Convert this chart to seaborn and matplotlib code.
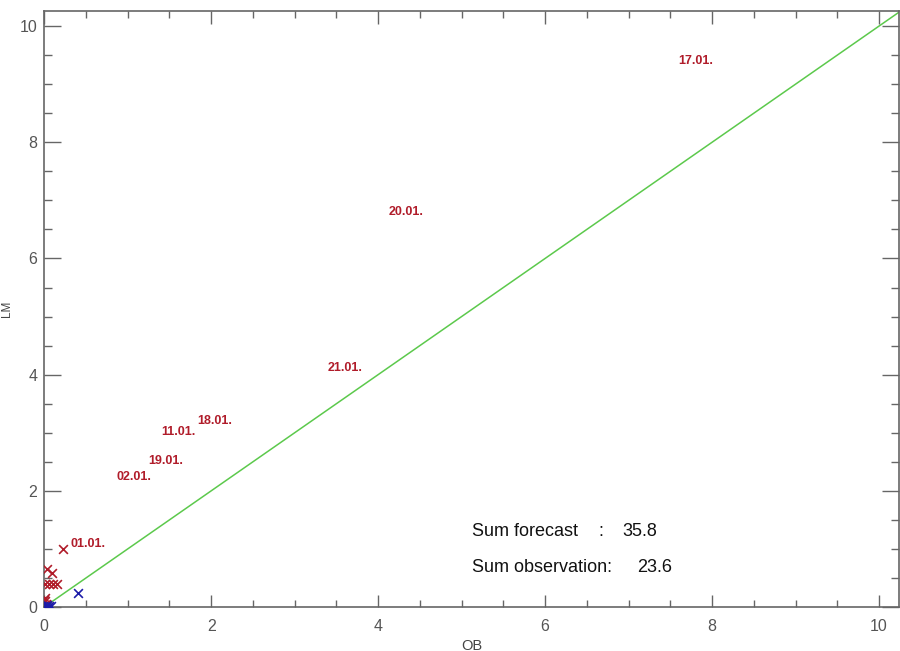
import matplotlib
matplotlib.use("Agg")
import matplotlib.pyplot as plt
import seaborn as sns
import pandas as pd
from matplotlib.ticker import MultipleLocator

# --- Data ---
# labelled days (observation OB, forecast LM)
label_days = ["17.01.", "20.01.", "21.01.", "18.01.", "11.01.", "19.01.", "02.01.", "01.01."]
label_ob = [7.60, 4.12, 3.40, 1.83, 1.40, 1.25, 0.86, 0.31]
label_lm = [9.40, 6.80, 4.11, 3.20, 3.01, 2.51, 2.24, 1.08]

# small overforecast days (red crosses)
red_ob = [0.23, 0.03, 0.09, 0.01, 0.06, 0.11, 0.15, 0.01, 0.01, 0.02, 0.00, 0.03]
red_lm = [0.99, 0.65, 0.59, 0.40, 0.40, 0.40, 0.40, 0.15, 0.10, 0.06, 0.12, 0.03]

# underforecast days (blue crosses)
blue_ob = [0.40, 0.02, 0.05, 0.03, 0.06, 0.01, 0.08]
blue_lm = [0.24, 0.01, 0.00, 0.03, 0.01, 0.00, 0.01]

one_to_one = [0, 10.6]

sum_forecast = 35.8
sum_observation = 23.6

RED = "#b01c2a"
BLUE = "#1c1ca8"
GREEN = "#5cc94c"
GREY = "#666666"

sns.set_style("white")
plt.rcParams["font.family"] = ["Liberation Sans", "DejaVu Sans"]

fig = plt.figure(figsize=(9, 6.51), dpi=100)
ax = fig.add_axes([0.0492, 0.0676, 0.9497, 0.9155])

sns.lineplot(x=one_to_one, y=one_to_one, color=GREEN, lw=1.1, ax=ax)

red_df = pd.DataFrame({"OB": red_ob, "LM": red_lm})
blue_df = pd.DataFrame({"OB": blue_ob, "LM": blue_lm})
sns.scatterplot(data=red_df, x="OB", y="LM", marker="x", color=RED, s=40,
                linewidth=1.2, ax=ax, zorder=3)
sns.scatterplot(data=blue_df, x="OB", y="LM", marker="x", color=BLUE, s=40,
                linewidth=1.2, ax=ax, zorder=3)

for day, xo, yl in zip(label_days, label_ob, label_lm):
    ax.text(xo, yl, day, color=RED, fontsize=9, fontweight="bold",
            ha="left", va="center")

# summary text
ax.text(0.501, 0.126, "Sum forecast", transform=ax.transAxes, fontsize=13,
        va="center", ha="left", color="#111111")
ax.text(0.648, 0.126, ":", transform=ax.transAxes, fontsize=13,
        va="center", ha="left", color="#111111")
ax.text(0.676, 0.126, f"{sum_forecast:.1f}", transform=ax.transAxes,
        fontsize=13, va="center", ha="left", color="#111111")
ax.text(0.501, 0.067, "Sum observation:", transform=ax.transAxes,
        fontsize=13, va="center", ha="left", color="#111111")
ax.text(0.694, 0.067, f"{sum_observation:.1f}", transform=ax.transAxes,
        fontsize=13, va="center", ha="left", color="#111111")

ax.set_xlim(0, 10.24)
ax.set_ylim(0, 10.26)
ax.xaxis.set_major_locator(MultipleLocator(2))
ax.xaxis.set_minor_locator(MultipleLocator(0.5))
ax.yaxis.set_major_locator(MultipleLocator(2))
ax.yaxis.set_minor_locator(MultipleLocator(0.5))

ax.tick_params(axis="x", which="major", direction="in", length=9, width=1,
               color=GREY, top=True, bottom=True, pad=9,
               labelsize=11.5, labelcolor="#555555")
ax.tick_params(axis="x", which="minor", direction="in", length=5, width=1,
               color=GREY, top=True, bottom=True)
ax.tick_params(axis="y", which="major", direction="in", length=12, width=1,
               color=GREY, left=True, right=True, pad=5,
               labelsize=11.5, labelcolor="#555555")
ax.tick_params(axis="y", which="minor", direction="in", length=6, width=1,
               color=GREY, left=True, right=True)

for spine in ax.spines.values():
    spine.set_color(GREY)
    spine.set_linewidth(1.2)

ax.set_xlabel("OB", fontsize=10.5, color="#444444", labelpad=3)
ax.set_ylabel("LM", fontsize=8.5, color="#444444", labelpad=5)

fig.savefig("out.png", dpi=100)
